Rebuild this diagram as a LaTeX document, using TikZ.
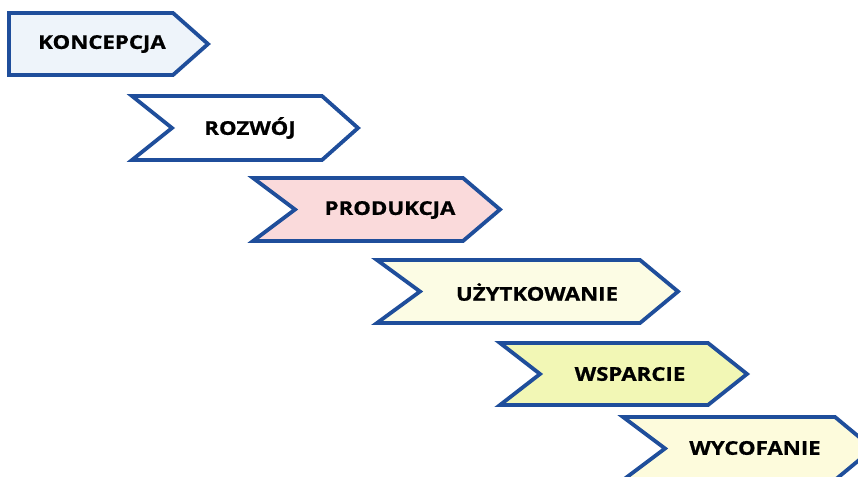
\documentclass[tikz,border=0pt]{standalone}
\usepackage{fontspec}
\setmainfont{Open Sans}
\newfontfamily\stagefont[FakeStretch=1.17, FakeBold=0.8]{Open Sans}
\definecolor{edgeblue}{HTML}{1F4E9B}
\definecolor{fillA}{HTML}{EEF4FA}
\definecolor{fillB}{HTML}{FFFFFF}
\definecolor{fillC}{HTML}{FADADB}
\definecolor{fillD}{HTML}{FCFCE4}
\definecolor{fillE}{HTML}{F2F7B5}
\definecolor{fillF}{HTML}{FDFBDC}
\tikzset{
  stagebox/.style={draw=edgeblue, line width=3.8pt, line join=miter},
  stagelabel/.style={font=\stagefont\fontsize{19}{22}\selectfont\bfseries, text=black, inner sep=0pt}
}
% chevron with notch: left x, top y, bottom y, notch x, corner x, tip x, fill
\newcommand{\chevronshape}[7]{%
  \draw[stagebox, fill=#7] (#1,#2) -- (#5,#2) -- (#6,{(#2+#3)/2}) -- (#5,#3) -- (#1,#3)
    -- (#4,{(#2+#3)/2}) -- cycle;}
\begin{document}
\begin{tikzpicture}[x=1pt,y=-1pt]
\useasboundingbox (0,0) rectangle (858,476);
\fill[white] (0,0) rectangle (858,476);
% first stage: flat left side
\draw[stagebox, fill=fillA] (9,13) -- (173,13) -- (208,44) -- (173,75) -- (9,75) -- cycle;
\chevronshape{132}{96}{160}{172}{322}{358}{fillB}
\chevronshape{253}{178}{241}{295}{463}{500}{fillC}
\chevronshape{377}{260}{323}{420}{640}{678}{fillD}
\chevronshape{500}{343}{405}{540}{708}{747}{fillE}
\chevronshape{623}{417}{480}{665}{835}{873}{fillF}
\node[stagelabel] (koncepcja) at (102,44) {KONCEPCJA};
\node[stagelabel] (rozwoj) at (250,128) {ROZWÓJ};
\node[stagelabel] (produkcja) at (390,210) {PRODUKCJA};
\node[stagelabel] (uzytkowanie) at (537,292) {UŻYTKOWANIE};
\node[stagelabel] (wsparcie) at (630,374) {WSPARCIE};
\node[stagelabel] (wycofanie) at (755,448) {WYCOFANIE};
\end{tikzpicture}
\end{document}
